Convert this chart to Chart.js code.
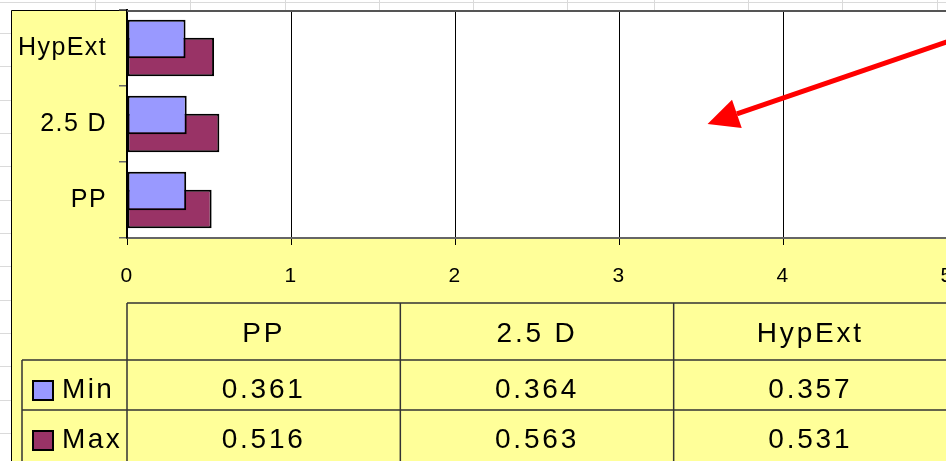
<!DOCTYPE html>
<html>
<head>
<meta charset="utf-8">
<title>Min / Max</title>
<script src="https://cdn.jsdelivr.net/npm/chart.js@4.4.1/dist/chart.umd.min.js"></script>
<style>
  html, body { margin: 0; padding: 0; width: 946px; height: 461px; overflow: hidden; background: #fff; }
  #sheet { position: absolute; left: 0; top: 0; width: 960px; height: 461px; }
  .vl { position: absolute; top: 0; width: 1px; height: 461px; background: #dadada; }
  .hl { position: absolute; left: 0; width: 960px; height: 1px; background: #dadada; }
  #chart { position: absolute; left: 0; top: 0; }
</style>
</head>
<body>
<div id="sheet"></div>
<canvas id="chart" width="960" height="461"></canvas>
<script>
// --- data ---
const categories = ['PP', '2.5 D', 'HypExt'];
const seriesNames = ['Min', 'Max'];
const minValues = [0.361, 0.364, 0.357];
const maxValues = [0.516, 0.563, 0.531];
const xTicks = [0, 1, 2, 3, 4, 5];

// colours (Excel defaults)
const YELLOW = '#FFFF99';
const MIN_COLOR = '#9999FF';
const MAX_COLOR = '#993366';
const FONT = "'Liberation Sans', Arial, sans-serif";

// spreadsheet grid behind the chart
const sheet = document.getElementById('sheet');
[95, 190, 285, 379, 473, 567, 654, 748, 842, 937].forEach(x => {
  const d = document.createElement('div');
  d.className = 'vl'; d.style.left = x + 'px'; sheet.appendChild(d);
});
for (let y = 2; y < 461; y = (y === 2 ? 33 : y + 33.33)) {
  const d = document.createElement('div');
  d.className = 'hl'; d.style.top = Math.round(y) + 'px'; sheet.appendChild(d);
}

// yellow chart area, white plot area
const backgroundPlugin = {
  id: 'excelBackground',
  beforeDraw(chart) {
    const { ctx, chartArea: a } = chart;
    ctx.save();
    ctx.fillStyle = YELLOW;
    ctx.fillRect(11, 10, chart.width - 11, chart.height - 10);
    ctx.fillStyle = '#fff';
    ctx.fillRect(a.left, a.top, a.right - a.left, a.bottom - a.top);
    ctx.strokeStyle = '#000';
    ctx.lineWidth = 1;
    ctx.beginPath();
    ctx.moveTo(11.5, chart.height);
    ctx.lineTo(11.5, 10.5);
    ctx.lineTo(a.left, 10.5);
    ctx.stroke();
    ctx.restore();
    ctx.letterSpacing = '1.4px';
  },
  afterDraw(chart) {
    const { ctx, chartArea: a } = chart;
    ctx.save();
    ctx.strokeStyle = '#555';
    ctx.lineWidth = 2;
    ctx.beginPath();
    ctx.moveTo(a.left, a.top + 1);
    ctx.lineTo(a.right, a.top + 1);
    ctx.stroke();
    ctx.restore();
  }
};

// red arrow drawn on the plot
const arrowFrom = { x: 5.2, y: 2.23 };
const arrowTo = { x: 3.54, y: 1 };
const arrowPlugin = {
  id: 'redArrow',
  afterDatasetsDraw(chart) {
    const { ctx, scales } = chart;
    const x0 = scales.x.getPixelForValue(arrowFrom.x), y0 = scales.y.getPixelForValue(arrowFrom.y);
    const x1 = scales.x.getPixelForValue(arrowTo.x), y1 = scales.y.getPixelForValue(arrowTo.y);
    const ang = Math.atan2(y1 - y0, x1 - x0);
    const headLen = 31, headHalf = 15;
    const bx = x1 - headLen * Math.cos(ang), by = y1 - headLen * Math.sin(ang);
    ctx.save();
    ctx.strokeStyle = '#FF0000';
    ctx.fillStyle = '#FF0000';
    ctx.lineWidth = 5;
    ctx.beginPath();
    ctx.moveTo(x0, y0);
    ctx.lineTo(bx, by);
    ctx.stroke();
    ctx.beginPath();
    ctx.moveTo(x1, y1);
    ctx.lineTo(bx + headHalf * Math.sin(ang), by - headHalf * Math.cos(ang));
    ctx.lineTo(bx - headHalf * Math.sin(ang), by + headHalf * Math.cos(ang));
    ctx.closePath();
    ctx.fill();
    ctx.restore();
  }
};

// data table under the x axis
const dataTablePlugin = {
  id: 'dataTable',
  afterDraw(chart) {
    const { ctx, chartArea: a } = chart;
    const colW = (a.right - a.left) / categories.length;
    const headTop = 303, headBottom = 360, rowH = 50, legendLeft = 22;
    const rows = [minValues, maxValues];
    const colors = [MIN_COLOR, MAX_COLOR];
    const bottom = chart.height + 5;

    ctx.save();
    ctx.strokeStyle = '#333';
    ctx.lineWidth = 1.5;
    ctx.beginPath();
    ctx.moveTo(a.left, headTop); ctx.lineTo(a.right, headTop);
    for (let r = 0; r < rows.length; r++) {
      const y = headBottom + r * rowH;
      ctx.moveTo(legendLeft, y); ctx.lineTo(a.right, y);
    }
    ctx.moveTo(legendLeft, headBottom); ctx.lineTo(legendLeft, bottom);
    for (let c = 0; c <= categories.length; c++) {
      const x = a.left + c * colW;
      ctx.moveTo(x, headTop); ctx.lineTo(x, bottom);
    }
    ctx.stroke();

    ctx.fillStyle = '#000';
    ctx.font = '28px ' + FONT;
    ctx.letterSpacing = '2.8px';
    ctx.textAlign = 'center';
    ctx.textBaseline = 'alphabetic';
    categories.forEach((cat, c) => {
      ctx.fillText(cat, a.left + c * colW + colW / 2, headBottom - 18);
    });
    rows.forEach((vals, r) => {
      const base = headBottom + r * rowH + 38;
      vals.forEach((v, c) => {
        ctx.fillText(v.toFixed(3), a.left + c * colW + colW / 2, base);
      });
      // legend key
      const top = base - 17;
      ctx.fillStyle = colors[r];
      ctx.fillRect(33, top, 20, 19);
      ctx.strokeStyle = '#000';
      ctx.lineWidth = 2;
      ctx.strokeRect(33, top, 20, 19);
      ctx.fillStyle = '#000';
      ctx.textAlign = 'left';
      ctx.letterSpacing = '2.4px';
      ctx.fillText(seriesNames[r], 62, base);
      ctx.textAlign = 'center';
      ctx.letterSpacing = '2.8px';
    });
    ctx.restore();
  }
};

const barStyle = {
  borderColor: '#000',
  borderWidth: 2,
  borderSkipped: false,
  categoryPercentage: 0.47,
  barPercentage: 2.15
};

new Chart(document.getElementById('chart'), {
  type: 'bar',
  data: {
    labels: categories,
    datasets: [
      Object.assign({ label: seriesNames[0], data: minValues, backgroundColor: MIN_COLOR }, barStyle),
      Object.assign({ label: seriesNames[1], data: maxValues, backgroundColor: MAX_COLOR }, barStyle)
    ]
  },
  options: {
    indexAxis: 'y',
    responsive: false,
    animation: false,
    layout: { padding: { left: 11, top: 10, right: 13, bottom: 173 } },
    plugins: { legend: { display: false }, tooltip: { enabled: false } },
    scales: {
      x: {
        min: xTicks[0],
        max: xTicks[xTicks.length - 1],
        afterBuildTicks(s) { s.ticks = xTicks.map(v => ({ value: v })); },
        ticks: { color: '#000', font: { family: FONT, size: 21 }, padding: 19 },
        grid: { color: '#000', lineWidth: 1, tickLength: 7 },
        border: { color: '#666', width: 2 },
        afterFit(s) { s.height = 50; s.paddingLeft = 0; s.paddingRight = 0; }
      },
      y: {
        reverse: true,
        offset: true,
        ticks: { color: '#000', font: { family: FONT, size: 25 }, padding: 12 },
        grid: { offset: true, drawOnChartArea: false, tickLength: 8, color: '#666', lineWidth: 1.5 },
        border: { color: '#000', width: 2 },
        afterFit(s) { s.width = 116; s.paddingTop = 0; s.paddingBottom = 0; }
      }
    }
  },
  plugins: [backgroundPlugin, arrowPlugin, dataTablePlugin]
});
</script>
</body>
</html>
